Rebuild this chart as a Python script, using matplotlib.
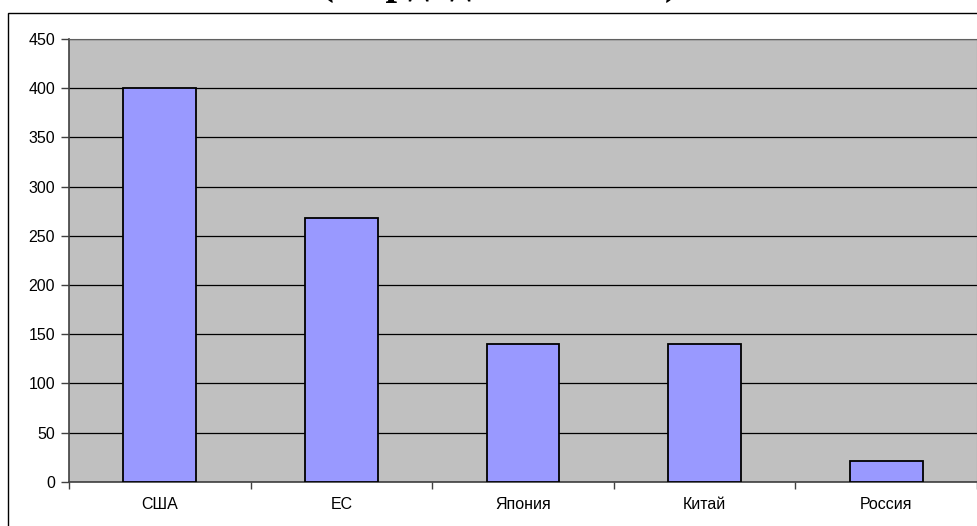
import numpy as np
import matplotlib.pyplot as plt
from matplotlib.patches import Rectangle

# data
categories = ['США', 'ЕС', 'Япония', 'Китай', 'Россия']
values = [400, 268, 140, 140, 21]
yticks = [0, 50, 100, 150, 200, 250, 300, 350, 400, 450]
title = '(млрд. долл. США)'

W, H = 977, 526
fig = plt.figure(figsize=(W / 100, H / 100), dpi=100)
fig.patch.set_facecolor('white')

# outer chart frame (cut by image edges on right/bottom)
fig.patches.append(Rectangle((8 / W, -0.2), 1.2, 1.2 - 13 / H, transform=fig.transFigure,
                             fill=False, edgecolor='black', linewidth=1.0))

# title, mostly cut off at the top
fig.text(499 / W, 1 + 6 / H, title, ha='center', va='baseline',
         family='Liberation Serif', fontweight='bold', fontsize=30)

ax = fig.add_axes([69 / W, 1 - 481.7 / H, (977 - 69) / W, (481.7 - 39) / H])
ax.set_facecolor('#C0C0C0')

x = np.arange(len(categories))
ax.bar(x, values, width=0.4, color='#9999FF', edgecolor='black', linewidth=1.3, zorder=3)

ax.set_ylim(0, 450)
ax.set_xlim(-0.5, len(categories) - 0.5)
ax.set_yticks(yticks)
ax.set_yticklabels([str(v) for v in yticks], family='Liberation Sans', fontsize=11.5)
ax.yaxis.grid(True, color='black', linewidth=0.9, zorder=1)
ax.set_axisbelow(True)

# ticks at category boundaries, labels at centers
ax.set_xticks(np.arange(len(categories) + 1) - 0.5)
ax.set_xticklabels([])
ax.set_xticks(x, minor=True)
ax.set_xticklabels(categories, minor=True, family='Liberation Sans', fontsize=11.5)
ax.tick_params(axis='x', which='minor', length=0, pad=11)
ax.tick_params(axis='x', which='major', length=5, width=1, color='#404040')
ax.tick_params(axis='y', length=6, width=1, color='#404040', pad=4)

for s in ['left', 'bottom']:
    ax.spines[s].set_color('#404040')
    ax.spines[s].set_linewidth(1.2)
ax.spines['top'].set_color('#606060')
ax.spines['right'].set_color('#808080')

fig.savefig('out.png', dpi=100)
